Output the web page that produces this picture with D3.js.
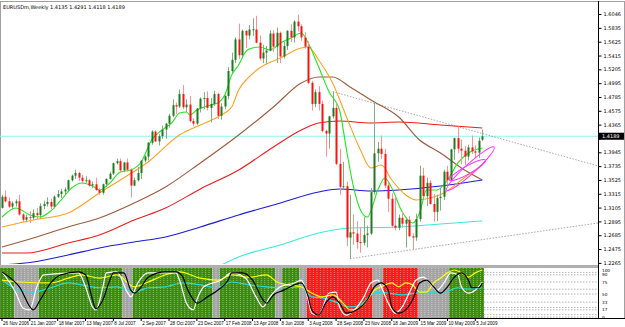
<!DOCTYPE html>
<html>
<head>
<meta charset="utf-8">
<script src="https://cdn.jsdelivr.net/npm/d3@7"></script>
<style>
  body { margin: 0; background: #fff; }
  svg { display: block; font-family: "DejaVu Sans", sans-serif; }
</style>
</head>
<body>
<svg id="chart" width="625" height="327"></svg>
<script>
// weekly bars, one row per week: open, high, low, close
const ohlc = [
  [1.3100,1.3300,1.3090,1.3270],[1.3270,1.3367,1.3180,1.3200],[1.3200,1.3260,1.3100,1.3120],[1.3120,1.3200,1.3080,1.3170],
  [1.3170,1.3230,1.3120,1.3200],[1.3200,1.3300,1.2980,1.3000],[1.3000,1.3020,1.2890,1.2920],[1.2920,1.3000,1.2880,1.2960],
  [1.2960,1.3050,1.2866,1.2950],[1.2950,1.3080,1.2920,1.3020],[1.3020,1.3100,1.2930,1.2990],[1.2990,1.3170,1.2940,1.3130],
  [1.3130,1.3210,1.3080,1.3160],[1.3160,1.3260,1.3120,1.3190],[1.3190,1.3240,1.3080,1.3120],[1.3120,1.3290,1.3090,1.3270],
  [1.3270,1.3370,1.3250,1.3310],[1.3310,1.3390,1.3250,1.3350],[1.3350,1.3410,1.3300,1.3380],[1.3380,1.3530,1.3340,1.3520],
  [1.3520,1.3610,1.3500,1.3590],[1.3590,1.3680,1.3540,1.3630],[1.3630,1.3650,1.3510,1.3560],[1.3560,1.3600,1.3460,1.3510],
  [1.3510,1.3580,1.3480,1.3520],[1.3520,1.3540,1.3420,1.3440],[1.3440,1.3500,1.3400,1.3460],[1.3460,1.3560,1.3360,1.3370],
  [1.3370,1.3400,1.3300,1.3330],[1.3330,1.3470,1.3300,1.3460],[1.3460,1.3550,1.3420,1.3540],[1.3540,1.3650,1.3530,1.3620],
  [1.3620,1.3790,1.3600,1.3780],[1.3780,1.3850,1.3760,1.3810],[1.3810,1.3850,1.3640,1.3670],[1.3670,1.3800,1.3640,1.3790],
  [1.3790,1.3850,1.3650,1.3680],[1.3680,1.3700,1.3260,1.3440],[1.3440,1.3560,1.3430,1.3520],[1.3520,1.3720,1.3500,1.3630],
  [1.3630,1.3820,1.3540,1.3820],[1.3820,1.3900,1.3790,1.3880],[1.3880,1.4100,1.3820,1.4090],[1.4090,1.4280,1.4060,1.4260],
  [1.4260,1.4280,1.4100,1.4110],[1.4110,1.4220,1.4050,1.4190],[1.4190,1.4350,1.4150,1.4290],[1.4290,1.4390,1.4150,1.4380],
  [1.4380,1.4530,1.4320,1.4500],[1.4500,1.4750,1.4480,1.4660],[1.4660,1.4700,1.4530,1.4640],[1.4640,1.4900,1.4620,1.4830],
  [1.4830,1.4966,1.4600,1.4630],[1.4630,1.4750,1.4560,1.4670],[1.4670,1.4800,1.4400,1.4420],[1.4420,1.4460,1.4340,1.4380],
  [1.4380,1.4620,1.4360,1.4610],[1.4610,1.4780,1.4550,1.4760],[1.4760,1.4860,1.4600,1.4770],[1.4770,1.4870,1.4580,1.4620],
  [1.4620,1.4770,1.4400,1.4680],[1.4680,1.4880,1.4650,1.4830],[1.4830,1.4850,1.4450,1.4500],[1.4500,1.4690,1.4440,1.4640],
  [1.4640,1.4820,1.4600,1.4800],[1.4800,1.5240,1.4750,1.5180],[1.5180,1.5460,1.5140,1.5350],[1.5350,1.5690,1.5300,1.5660],
  [1.5660,1.5900,1.5360,1.5420],[1.5420,1.5810,1.5390,1.5790],[1.5790,1.5800,1.5530,1.5720],[1.5720,1.5880,1.5660,1.5810],
  [1.5810,1.5980,1.5710,1.5815],[1.5810,1.6018,1.5600,1.5610],[1.5610,1.5720,1.5340,1.5370],[1.5370,1.5580,1.5300,1.5460],
  [1.5460,1.5560,1.5290,1.5490],[1.5490,1.5800,1.5480,1.5750],[1.5750,1.5800,1.5470,1.5550],[1.5550,1.5840,1.5300,1.5760],
  [1.5760,1.5780,1.5300,1.5400],[1.5400,1.5630,1.5370,1.5560],[1.5560,1.5800,1.5500,1.5790],[1.5790,1.5890,1.5620,1.5690],
  [1.5690,1.5950,1.5610,1.5930],[1.5930,1.6038,1.5780,1.5860],[1.5860,1.5890,1.5640,1.5690],[1.5690,1.5770,1.5520,1.5550],
  [1.5550,1.5630,1.4980,1.5000],[1.5000,1.5030,1.4580,1.4680],[1.4680,1.4900,1.4630,1.4860],[1.4860,1.4950,1.4580,1.4680],
  [1.4680,1.4730,1.4250,1.4270],[1.4270,1.4290,1.3880,1.4230],[1.4230,1.4500,1.4000,1.4490],[1.4490,1.4867,1.4460,1.4620],
  [1.4620,1.4700,1.3750,1.3770],[1.3770,1.4000,1.3300,1.3420],[1.3420,1.3800,1.3380,1.3430],[1.3430,1.3500,1.2520,1.2650],
  [1.2650,1.3300,1.2330,1.2730],[1.2730,1.3000,1.2540,1.2710],[1.2710,1.2900,1.2480,1.2580],[1.2580,1.2800,1.2420,1.2570],
  [1.2570,1.2960,1.2530,1.2690],[1.2690,1.2830,1.2500,1.2710],[1.2710,1.3400,1.2690,1.3340],[1.3340,1.4720,1.3300,1.3930],
  [1.3930,1.4100,1.3800,1.4000],[1.4000,1.4200,1.3840,1.3920],[1.3920,1.4000,1.3400,1.3440],[1.3440,1.3500,1.3040,1.3240],
  [1.3240,1.3320,1.2800,1.2830],[1.2830,1.3260,1.2760,1.2800],[1.2800,1.3000,1.2760,1.2950],[1.2950,1.3050,1.2800,1.2860],
  [1.2860,1.2950,1.2500,1.2920],[1.2920,1.2980,1.2660,1.2670],[1.2670,1.2710,1.2456,1.2650],[1.2650,1.3010,1.2600,1.2930],
  [1.2930,1.3740,1.2890,1.3590],[1.3590,1.3710,1.3260,1.3280],[1.3280,1.3560,1.3130,1.3480],[1.3480,1.3520,1.3150,1.3160],
  [1.3160,1.3310,1.2890,1.3040],[1.3040,1.3300,1.2900,1.3250],[1.3250,1.3400,1.3060,1.3270],[1.3270,1.3680,1.3220,1.3650],
  [1.3650,1.3740,1.3460,1.3520],[1.3520,1.4000,1.3500,1.3990],[1.3990,1.4170,1.3830,1.4160],[1.4160,1.4340,1.3930,1.4000],
  [1.4000,1.4140,1.3760,1.3970],[1.3970,1.4040,1.3750,1.3880],[1.3880,1.4060,1.3820,1.4020],[1.4020,1.4200,1.3920,1.3960],
  [1.3960,1.4050,1.3860,1.3940],[1.3940,1.4170,1.3860,1.4120],[1.4135,1.4291,1.4118,1.4189]
];

// date labels every 8 bars
const dateLabels = ['26 Nov 2006','21 Jan 2007','18 Mar 2007','13 May 2007','8 Jul 2007','2 Sep 2007','28 Oct 2007',
  '23 Dec 2007','17 Feb 2008','13 Apr 2008','8 Jun 2008','3 Aug 2008','28 Sep 2008','23 Nov 2008','18 Jan 2009',
  '15 Mar 2009','10 May 2009','5 Jul 2009'];

const priceTicks = [1.6046,1.5835,1.5625,1.5415,1.5205,1.4995,1.4785,1.4575,1.4365,1.4155,1.3945,1.3735,
  1.3525,1.3315,1.3105,1.2895,1.2685,1.2475,1.2265];
const lastPrice = 1.4189;

// moving averages, [bar, price]
const maGreen = [[0,1.2962],[4,1.3099],[8,1.2993],[11,1.2962],[14,1.3053],[17,1.3221],[20,1.3403],[23,1.3479],[26,1.3433],
  [28,1.3373],[31,1.3479],[34,1.3646],[37,1.3676],[40,1.3798],[43,1.4132],[46,1.4284],[49,1.4405],[51,1.4542],[53,1.4557],
  [54,1.4512],[56,1.4588],[60,1.4664],[62,1.4694],[64,1.4815],[66,1.5119],[68,1.5271],[70,1.5469],[71,1.5514],[74,1.5545],
  [77,1.5499],[80,1.5605],[83,1.5681],[86,1.5757],[88,1.5605],[91,1.5241],[94,1.4861],[97,1.4588],[99,1.3980],[101,1.3418],
  [103,1.3069],[105,1.2962],[108,1.3373],[110,1.3555],[112,1.3403],[115,1.3038],[118,1.2871],[120,1.3023],[122,1.3373],
  [125,1.3373],[128,1.3524],[131,1.3783],[134,1.3935],[138,1.4011]];
const maOrange = [[0,1.2811],[9,1.2917],[19,1.3023],[28,1.3327],[34,1.3524],[42,1.3798],[51,1.4208],[57,1.4360],[63,1.4512],
  [66,1.4633],[68,1.4892],[71,1.5089],[74,1.5226],[80,1.5378],[86,1.5530],[88,1.5545],[91,1.5347],[95,1.4998],[99,1.4481],
  [103,1.3980],[106,1.3707],[109,1.3752],[112,1.3524],[116,1.3297],[119,1.3221],[123,1.3251],[127,1.3327],[132,1.3524],
  [138,1.3752]];
const maBrown = [[0,1.2507],[9,1.2644],[19,1.2811],[28,1.2947],[38,1.3175],[47,1.3418],[57,1.3783],[68,1.4208],[78,1.4633],
  [86,1.4998],[91,1.5089],[95,1.5089],[100,1.4937],[106,1.4740],[114,1.4481],[120,1.4132],[126,1.3935],[132,1.3707],
  [138,1.3524]];
const maRed = [[0,1.2416],[7,1.2416],[19,1.2568],[28,1.2689],[38,1.2917],[47,1.3099],[57,1.3388],[68,1.3676],[78,1.4026],
  [86,1.4284],[91,1.4390],[97,1.4421],[106,1.4390],[114,1.4405],[126,1.4360],[138,1.4314]];
const maBlue = [[0,1.2233],[9,1.2279],[19,1.2385],[28,1.2492],[38,1.2583],[47,1.2659],[57,1.2811],[68,1.2993],[80,1.3175],
  [91,1.3342],[97,1.3388],[106,1.3357],[114,1.3373],[126,1.3433],[138,1.3524]];
const maCyan = [[60,1.2150],[68,1.2355],[80,1.2537],[91,1.2719],[100,1.2795],[114,1.2811],[126,1.2856],[138,1.2902]];

// dotted trendlines, [bar, price] endpoints
const trendUpper = [[95,1.4867],[171.3,1.3737]];
const trendLower = [[100,1.2330],[171.3,1.2871]];

// magenta ellipses drawn over the last bars: [bar from, price from, bar to, price to, half-width]
const ellipses = [[127.8,1.3370,141.4,1.4023,5],[128.6,1.3522,138.9,1.3826,4]];

// oscillator panel: background regimes [firstBar, lastBar, kind]
const regimes = [[0,3,'up'],[4,10,'flat'],[11,34,'up'],[35,37,'flat'],[38,60,'up'],[61,62,'flat'],[63,78,'up'],
  [79,80,'flat'],[81,85,'up'],[86,87,'flat'],[88,106,'down'],[107,109,'flat'],[110,119,'down'],[120,128,'flat'],
  [129,138,'up']];
const oscBlack = [[0,96],[5,65],[9,17],[11,38],[14,73],[17,90],[22,96],[24,90],[26,38],[27,19],[29,38],[31,79],[32,94],
  [35,94],[37,58],[38,52],[40,65],[42,85],[47,96],[50,96],[52,85],[53,65],[55,38],[56,31],[59,44],[62,58],[65,79],[66,94],
  [69,94],[72,79],[75,38],[76,31],[78,48],[81,58],[84,69],[86,73],[88,44],[89,17],[91,6],[93,31],[95,44],[97,31],[99,10],
  [102,17],[105,38],[107,65],[109,73],[111,58],[112,23],[114,10],[116,17],[118,38],[120,73],[122,79],[124,65],[126,52],
  [128,65],[130,85],[132,94],[134,79],[135,63],[137,63],[138,73]];
const oscWhite = [[0,96],[4,52],[6,21],[8,17],[10,65],[12,90],[22,94],[24,65],[26,23],[27,17],[29,65],[30,94],[33,96],
  [36,54],[37,44],[39,73],[42,94],[50,94],[51,79],[53,31],[55,17],[56,38],[58,65],[63,79],[66,94],[70,83],[73,44],[75,23],
  [77,44],[80,65],[84,73],[86,79],[88,38],[89,10],[91,6],[94,52],[96,54],[97,23],[99,6],[101,15],[104,44],[106,73],
  [108,79],[109,65],[111,31],[113,10],[115,23],[117,52],[119,79],[121,85],[123,73],[125,58],[127,73],[129,94],[131,90],
  [132,65],[134,52],[136,58],[138,75]];
const oscYellow = [[0,79],[5,75],[14,73],[19,83],[23,90],[28,83],[33,90],[38,65],[42,75],[47,90],[51,96],[57,83],[62,79],
  [66,90],[71,85],[76,90],[79,75],[82,69],[86,65],[89,52],[92,44],[95,48],[98,31],[100,17],[103,23],[105,38],[107,58],
  [109,65],[112,73],[114,65],[116,73],[118,69],[120,54],[122,54],[124,73],[126,83],[128,94],[130,100],[132,94],[134,85],
  [136,94],[138,100]];
const oscCyan = [[0,79],[2,69],[5,58],[9,54],[14,63],[19,73],[23,69],[28,63],[33,65],[38,54],[42,63],[47,65],[52,73],
  [57,69],[62,63],[66,75],[71,69],[76,65],[81,63],[86,65],[89,44],[92,42],[96,33],[100,23],[103,27],[106,48],[108,54],
  [111,52],[115,48],[119,52],[123,54],[127,54],[131,63],[134,60],[138,63]];
const oscLevels = [95, 90, 75, 60, 50, 33, 22, 17, 7, 2];
const oscTicks = [[100,'100'],[90,'90'],[75,'75'],[50,'50'],[33,'33'],[17,'17'],[2,'0']];

// ---- layout ----
const svg = d3.select('#chart');
const plotLeft = 0, plotRight = 598;
const mainTop = 3, mainBottom = 264;
const oscTop = 268, oscBottom = 318;
const barStep = 3.48;

const x = d3.scaleLinear().domain([0, 138]).range([2, 2 + 138 * barStep]);
const y = d3.scaleLinear().domain([1.2248, 1.6046]).range([264, 14]);
const yo = d3.scaleLinear().domain([0, 100]).range([oscBottom, oscTop + 2]);

svg.append('defs').append('clipPath').attr('id', 'mainClip')
  .append('rect').attr('x', plotLeft).attr('y', mainTop).attr('width', plotRight - plotLeft).attr('height', mainBottom - mainTop);
svg.select('defs').append('clipPath').attr('id', 'oscClip')
  .append('rect').attr('x', plotLeft).attr('y', oscTop).attr('width', plotRight - plotLeft).attr('height', oscBottom - oscTop);

// frame
svg.append('rect').attr('x', 0.5).attr('y', 1.5).attr('width', 624).attr('height', 317)
  .attr('fill', 'none').attr('stroke', '#a0a0a0');
svg.append('line').attr('x1', plotRight + 0.5).attr('x2', plotRight + 0.5).attr('y1', 1).attr('y2', oscBottom)
  .attr('stroke', '#000');
svg.append('rect').attr('x', 0).attr('y', mainBottom + 1).attr('width', plotRight).attr('height', 3)
  .attr('fill', '#b0b0b0');
svg.append('line').attr('x1', 0).attr('x2', 625).attr('y1', oscBottom + 0.5).attr('y2', oscBottom + 0.5)
  .attr('stroke', '#000');

const main = svg.append('g').attr('clip-path', 'url(#mainClip)');

// current price line
main.append('line').attr('x1', plotLeft).attr('x2', plotRight).attr('y1', y(lastPrice)).attr('y2', y(lastPrice))
  .attr('stroke', '#8ff4f4').attr('stroke-width', 1.2);

// trendlines
[trendUpper, trendLower].forEach(t => {
  main.append('line')
    .attr('x1', x(t[0][0])).attr('y1', y(t[0][1])).attr('x2', x(t[1][0])).attr('y2', y(t[1][1]))
    .attr('stroke', '#909090').attr('stroke-width', 0.8).attr('stroke-dasharray', '1.5,1.5');
});

// moving averages
const maLine = d3.line().x(d => x(d[0])).y(d => y(d[1])).curve(d3.curveMonotoneX);
[[maCyan, '#3ee6e6'], [maBlue, '#1a1ad6'], [maRed, '#ee1c1c'], [maBrown, '#9b5a3c'], [maOrange, '#ffa020'], [maGreen, '#22e622']]
  .forEach(([pts, col]) => {
    main.append('path').attr('d', maLine(pts)).attr('fill', 'none').attr('stroke', col).attr('stroke-width', 1.1);
  });

// candles
const bars = main.selectAll('.bar').data(ohlc).enter().append('g').attr('class', 'bar');
bars.append('line')
  .attr('x1', (d, i) => Math.round(x(i)) + 0.5).attr('x2', (d, i) => Math.round(x(i)) + 0.5)
  .attr('y1', d => y(d[1])).attr('y2', d => y(d[2]))
  .attr('stroke', d => d[3] >= d[0] ? '#7fae7f' : '#ff9090').attr('stroke-width', 1);
bars.append('rect')
  .attr('x', (d, i) => Math.round(x(i)) - 0.5).attr('width', 2)
  .attr('y', d => y(Math.max(d[0], d[3])))
  .attr('height', d => Math.max(1, Math.abs(y(d[0]) - y(d[3]))))
  .attr('fill', d => d[3] >= d[0] ? '#1f7a1f' : '#ff1010');

// highlight ellipses near the latest bars
const ell = main.append('g').attr('fill', 'none').attr('stroke', '#ff33ff').attr('stroke-width', 1);
ellipses.forEach(([b0, p0, b1, p1, hw]) => {
  const x0 = x(b0), y0 = y(p0), x1 = x(b1), y1 = y(p1);
  const cx = (x0 + x1) / 2, cy = (y0 + y1) / 2;
  const len = Math.hypot(x1 - x0, y1 - y0) / 2;
  const ang = Math.atan2(y1 - y0, x1 - x0) * 180 / Math.PI;
  ell.append('ellipse').attr('cx', cx).attr('cy', cy).attr('rx', len).attr('ry', hw)
    .attr('transform', `rotate(${ang} ${cx} ${cy})`);
});

// header
svg.append('text').attr('x', 3).attr('y', 9).attr('font-size', 5).attr('fill', '#000')
  .text('EURUSDm,Weekly  1.4135 1.4291 1.4118 1.4189');

// price axis
const yAxis = d3.axisRight(y).tickValues(priceTicks).tickSize(3).tickFormat(d3.format('.4f'));
const gy = svg.append('g').attr('transform', `translate(${plotRight + 0.5},0)`).call(yAxis);
gy.select('.domain').remove();
gy.selectAll('text').attr('font-size', 5).attr('x', 5).attr('fill', '#000').attr('font-family', '"DejaVu Sans", sans-serif');
gy.selectAll('line').attr('stroke', '#000');
// the price marker covers the tick label beneath it
gy.selectAll('.tick').filter(d => Math.abs(y(d) - y(lastPrice)) < 6).select('text').attr('opacity', 0);

svg.append('rect').attr('x', plotRight + 1).attr('y', y(lastPrice) - 3.5).attr('width', 25).attr('height', 7).attr('fill', '#000');
svg.append('text').attr('x', plotRight + 4).attr('y', y(lastPrice) + 2).attr('font-size', 5).attr('fill', '#fff')
  .text(lastPrice.toFixed(4));

// ---- oscillator panel ----
const osc = svg.append('g').attr('clip-path', 'url(#oscClip)');
const regimeColor = { up: '#3c8c0c', flat: '#a4a4a4', down: '#ff1a1a' };
regimes.forEach(([a, b, kind]) => {
  osc.append('rect').attr('x', x(a) - barStep / 2).attr('width', x(b) - x(a) + barStep)
    .attr('y', oscTop).attr('height', oscBottom - oscTop).attr('fill', regimeColor[kind]);
});
// per-bar separators
osc.selectAll('.sep').data(ohlc).enter().append('line')
  .attr('x1', (d, i) => x(i) + barStep / 2).attr('x2', (d, i) => x(i) + barStep / 2)
  .attr('y1', oscTop).attr('y2', oscBottom)
  .attr('stroke', '#ffffff').attr('stroke-opacity', 0.55).attr('stroke-width', 0.8).attr('stroke-dasharray', '1,1');

// level lines on the right
osc.selectAll('.lvl').data(oscLevels).enter().append('line')
  .attr('x1', x(138) + barStep / 2).attr('x2', plotRight).attr('y1', d => yo(d)).attr('y2', d => yo(d))
  .attr('stroke', '#909090').attr('stroke-width', 0.7).attr('stroke-dasharray', '1.5,1.5');

const oscLine = d3.line().x(d => x(d[0])).y(d => yo(d[1])).curve(d3.curveMonotoneX);
[[oscCyan, '#22dddd'], [oscYellow, '#ffff00'], [oscWhite, '#ffffff'], [oscBlack, '#000000']].forEach(([pts, col]) => {
  osc.append('path').attr('d', oscLine(pts)).attr('fill', 'none').attr('stroke', col).attr('stroke-width', 1.2);
});

svg.append('g').selectAll('text').data(oscTicks).enter().append('text')
  .attr('x', plotRight + 4).attr('y', d => yo(d[0]) + 1.6).attr('font-size', 4.2).attr('fill', '#000')
  .text(d => d[1]);

// ---- date axis ----
const dateG = svg.append('g').attr('font-family', '"Liberation Sans Narrow", "Liberation Sans", sans-serif');
dateLabels.forEach((lab, k) => {
  const xi = x(k * 8);
  dateG.append('line').attr('x1', xi).attr('x2', xi).attr('y1', oscBottom).attr('y2', oscBottom + 3).attr('stroke', '#000');
  dateG.append('text').attr('x', xi + 1).attr('y', 325).attr('font-size', 4.6).attr('fill', '#000').text(lab);
});
</script>
</body>
</html>
